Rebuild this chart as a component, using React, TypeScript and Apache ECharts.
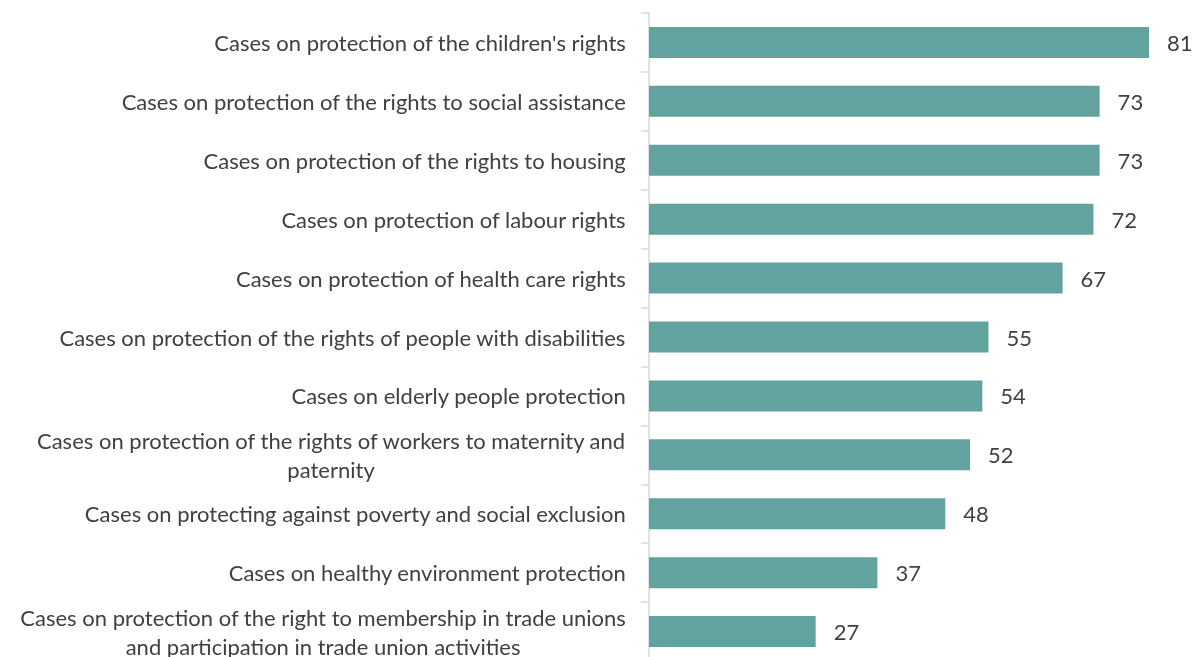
import React, { useEffect, useRef } from "react";
import * as echarts from "echarts";

const categories = [
  "Cases on protection of the children's rights",
  "Cases on protection of the rights to social assistance",
  "Cases on protection of the rights to housing",
  "Cases on protection of labour rights",
  "Cases on protection of health care rights",
  "Cases on protection of the rights of people with disabilities",
  "Cases on elderly people protection",
  "Cases on protection of the rights of workers to maternity and\npaternity",
  "Cases on protecting against poverty and social exclusion",
  "Cases on healthy environment protection",
  "Cases on protection of the right to membership in trade unions\nand participation in trade union activities",
];
const values = [81, 73, 73, 72, 67, 55, 54, 52, 48, 37, 27];

export default function App() {
  const ref = useRef<HTMLDivElement>(null);
  useEffect(() => {
    if (!ref.current) return;
    const chart = echarts.init(ref.current, undefined, { renderer: "svg" });
    chart.setOption({
      animation: false,
      grid: { left: 649, top: 13, width: 500, height: 648, containLabel: false },
      xAxis: {
        type: "value",
        min: 0,
        max: 81,
        show: false,
        splitLine: { show: false },
      },
      yAxis: {
        type: "category",
        inverse: true,
        data: categories,
        axisLine: { show: true, lineStyle: { color: "#D9D9D9", width: 1.5 } },
        axisTick: { show: true, length: 8, lineStyle: { color: "#D9D9D9", width: 1.5 } },
        axisLabel: {
          margin: 23,
          color: "#404040",
          fontFamily: "Lato",
          fontSize: 22,
          lineHeight: 29,
          formatter: (v: string) =>
            v
              .split("\n")
              .map((l) => `{c|${l}}`)
              .join("\n"),
          rich: {
            c: {
              align: "center",
              color: "#404040",
              fontFamily: "Lato",
              fontSize: 22,
              lineHeight: 29,
            },
          },
        },
      },
      series: [
        {
          type: "bar",
          data: values,
          barWidth: 31,
          itemStyle: { color: "#62A39F" },
          label: {
            show: true,
            position: "right",
            distance: 18,
            color: "#404040",
            fontFamily: "Lato",
            fontSize: 22,
          },
        },
      ],
    });
    return () => chart.dispose();
  }, []);
  return (
    <div
      ref={ref}
      style={{ position: "fixed", left: 0, top: 0, width: 1195, height: 670 }}
    />
  );
}
